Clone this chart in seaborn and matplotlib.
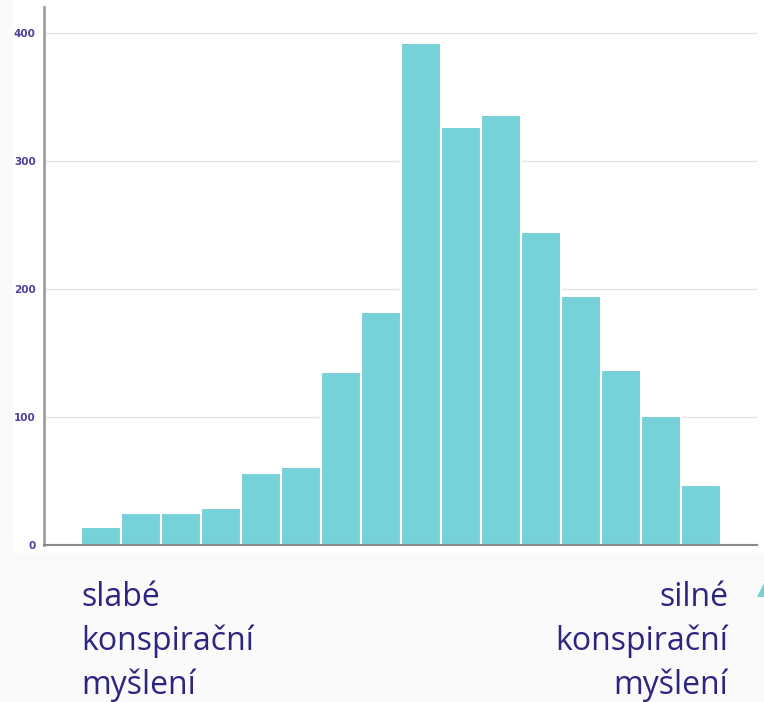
import matplotlib
matplotlib.use("Agg")
import matplotlib.pyplot as plt
import seaborn as sns
import numpy as np
import pandas as pd
from matplotlib.patches import Rectangle, Polygon

# Data
bin_index = list(range(16))
counts = [14, 25, 25, 29, 56, 61, 135, 182, 392, 326, 336, 244, 194, 137, 101, 47]
y_ticks = [0, 100, 200, 300, 400]
left_label = "slabé\nkonspirační\nmyšlení"
right_label = "silné\nkonspirační\nmyšlení"

df = pd.DataFrame({"bin": [b + 0.5 for b in bin_index], "count": counts})

sns.set_theme(style="white")
plt.rcParams['font.family'] = ['Open Sans', 'DejaVu Sans']

fig = plt.figure(figsize=(7.64, 7.02), dpi=100, facecolor="#fafafa")
# white panel behind chart
bg = Rectangle((13/764, 1 - 553/702), 1 - 13/764, 553/702,
               transform=fig.transFigure, facecolor="white",
               edgecolor="none", zorder=-10)
fig.add_artist(bg)
ax = fig.add_axes([44/764, 1 - 545/702, (757 - 44)/764, (545 - 7)/702])
ax.set_zorder(1)
ax.set_facecolor("white")

sns.histplot(data=df, x="bin", weights="count", bins=16, binrange=(0, 16),
             color="#76d1d9", alpha=1.0, edgecolor="white", linewidth=1.5, ax=ax)

ax.set_xlim(-0.925, 16.9)
ax.set_ylim(0, 420)
ax.set_yticks(y_ticks)
ax.set_yticklabels([str(t) for t in y_ticks], fontsize=7.5, color="#4b3f9a",
                   fontweight="bold", family=["DejaVu Sans"])
ax.set_xticks([])
ax.set_xlabel("")
ax.set_ylabel("")
ax.tick_params(axis="y", length=0, pad=6)
ax.yaxis.grid(True, color="#e4e4e4", linewidth=1)
ax.set_axisbelow(True)
for s in ["top", "right"]:
    ax.spines[s].set_visible(False)
ax.spines["left"].set_color("#a0a0a0")
ax.spines["left"].set_linewidth(2)
ax.spines["bottom"].set_color("#8a8a8a")
ax.spines["bottom"].set_linewidth(1.5)

fig.text(81/764, 1 - 581/702, left_label, ha="left", va="top", fontsize=23,
         color="#2e2580", linespacing=1.42)
fig.text(728/764, 1 - 581/702, right_label, ha="right", va="top", fontsize=23,
         color="#2e2580", linespacing=1.42, multialignment="right")

# small teal decoration at bottom right
fig.add_artist(Polygon([(757/764, 1 - 597/702), (764/764, 1 - 597/702), (764/764, 1 - 583/702)],
                       closed=True, transform=fig.transFigure,
                       facecolor="#76d1d9", edgecolor="none"))

fig.savefig("out.png", dpi=100, facecolor=fig.get_facecolor())
